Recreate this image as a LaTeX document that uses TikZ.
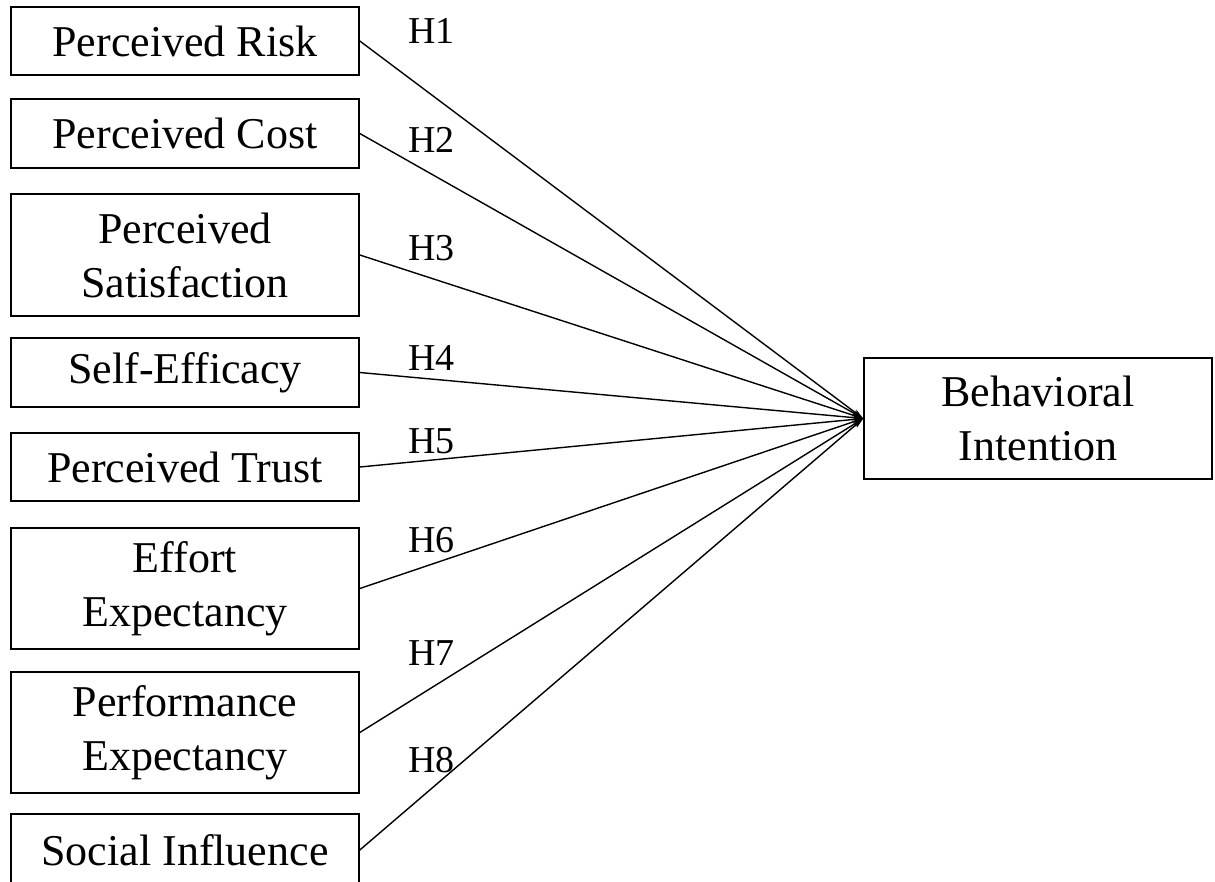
\documentclass[tikz,border=0pt]{standalone}
\usepackage{fontspec}
\setmainfont{Liberation Serif}
\usetikzlibrary{arrows.meta}
\begin{document}
\begin{tikzpicture}[x=1pt,y=-1pt,
  box/.style={draw=black,line width=1.6pt,minimum width=348pt,align=center,inner sep=0pt,
    font=\fontsize{44}{54}\selectfont},
  hyp/.style={anchor=base west,inner sep=0pt,font=\fontsize{38}{40}\selectfont},
  conn/.style={line width=1.4pt,-{Stealth[length=11pt,width=6pt]}}]
\useasboundingbox (0,0) rectangle (1215,881);
\node[box,minimum height=68pt] (pr) at (185,41) {Perceived Risk};
\node[box,minimum height=69pt] (pc) at (185,133.5) {Perceived Cost};
\node[box,minimum height=122pt] (ps) at (185,255) {Perceived\\Satisfaction};
\node[box,minimum height=69pt] (se) at (185,372.5) {Self-Efficacy};
\node[box,minimum height=68pt] (pt) at (185,467) {Perceived Trust};
\node[box,minimum height=121pt] (ee) at (185,588.5) {Effort\\Expectancy};
\node[box,minimum height=121pt] (pe) at (185,732.5) {Performance\\Expectancy};
\node[box,minimum height=72pt] (si) at (185,850) {Social Influence};
\node[box,minimum height=121pt] (bi) at (1038,418.5) {Behavioral\\Intention};
\foreach \n in {pr,pc,ps,se,pt,ee,pe,si}{\draw[conn] (\n.east) -- (bi.west);}
\node[hyp] (h1) at (408,43) {H1};
\node[hyp] (h2) at (408,152) {H2};
\node[hyp] (h3) at (408,260) {H3};
\node[hyp] (h4) at (408,370) {H4};
\node[hyp] (h5) at (408,453) {H5};
\node[hyp] (h6) at (408,552) {H6};
\node[hyp] (h7) at (408,665) {H7};
\node[hyp] (h8) at (408,772) {H8};
\end{tikzpicture}
\end{document}
